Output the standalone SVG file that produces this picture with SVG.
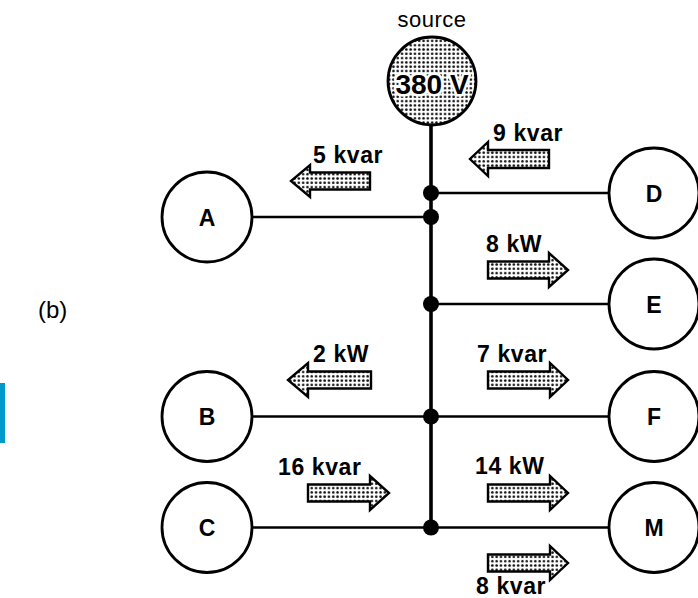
<svg xmlns="http://www.w3.org/2000/svg" width="698" height="598" viewBox="0 0 698 598">
<defs>
<pattern id="dots" width="4.3" height="4.3" patternUnits="userSpaceOnUse">
<rect width="4.3" height="4.3" fill="#fff"/>
<circle cx="2.15" cy="2.15" r="1.3" fill="#111"/>
</pattern>
<style>
.node{fill:#fff;stroke:#000;stroke-width:2.8}
.lbl{font-family:"Liberation Sans",Arial,sans-serif;font-weight:bold;font-size:23px;fill:#000;text-anchor:middle}
.val{font-family:"Liberation Sans",Arial,sans-serif;font-weight:bold;font-size:23px;fill:#000;letter-spacing:0.6px}
.wire{stroke:#000;stroke-width:2.6;fill:none}
.bus{stroke:#000;stroke-width:3.6;fill:none}
.dot{fill:#000}
.arr{fill:url(#dots);stroke:#000;stroke-width:2.4;stroke-linejoin:miter}
</style>
</defs>
<rect width="698" height="598" fill="#fff"/>
<rect x="0" y="383" width="5" height="60" fill="#0099cc"/>
<text x="38" y="318" font-family="Liberation Sans,Arial,sans-serif" font-size="24" fill="#000">(b)</text>

<g id="connectors">
<line class="bus" x1="431" y1="124" x2="431" y2="527.5"/>
<line class="wire" x1="252" y1="217" x2="431" y2="217"/>
<line class="wire" x1="431" y1="193" x2="609" y2="193"/>
<line class="wire" x1="431" y1="304" x2="609" y2="304"/>
<line class="wire" x1="252" y1="416.5" x2="609" y2="416.5"/>
<line class="wire" x1="252" y1="527.5" x2="609" y2="527.5"/>
<circle class="dot" cx="431" cy="193" r="8"/>
<circle class="dot" cx="431" cy="217" r="8"/>
<circle class="dot" cx="431" cy="304" r="8"/>
<circle class="dot" cx="431" cy="416.5" r="8"/>
<circle class="dot" cx="431" cy="527.5" r="8"/>
</g>

<g id="flows">
<path class="arr" d="M370,172.5 H310 V165 L291,181 L310,197 V189.5 H370 Z"/>
<text class="val" x="313" y="163">5 kvar</text>
<path class="arr" d="M549,150 H488 V142 L470,159 L488,176 V168 H549 Z"/>
<text class="val" x="493" y="141">9 kvar</text>
<path class="arr" d="M488,261.5 H549 V253 L568,270 L549,287 V278.5 H488 Z"/>
<text class="val" x="486" y="252">8 kW</text>
<path class="arr" d="M371,371.5 H308 V363 L288,380 L308,397 V388.5 H371 Z"/>
<text class="val" x="313" y="362">2 kW</text>
<path class="arr" d="M488,371.5 H550 V363 L568,380 L550,397 V388.5 H488 Z"/>
<text class="val" x="477" y="362">7 kvar</text>
<path class="arr" d="M308,484.5 H370 V476 L389,493 L370,510 V501.5 H308 Z"/>
<text class="val" x="278" y="475">16 kvar</text>
<path class="arr" d="M488,484.5 H550 V476 L568,493 L550,510 V501.5 H488 Z"/>
<text class="val" x="475" y="474">14 kW</text>
<path class="arr" d="M488,554.5 H550 V546 L568,563 L550,580 V571.5 H488 Z"/>
<text class="val" x="476" y="594">8 kvar</text>
</g>

<g id="source">
<text x="432" y="27" font-family="Liberation Sans,Arial,sans-serif" font-size="22" fill="#000" text-anchor="middle" letter-spacing="0.5">source</text>
<circle cx="432" cy="81" r="44" fill="url(#dots)" stroke="#000" stroke-width="2.8"/>
<text x="432" y="94" font-family="Liberation Sans,Arial,sans-serif" font-weight="bold" font-size="28" fill="#000" text-anchor="middle" stroke="#fff" stroke-width="5" paint-order="stroke" stroke-linejoin="round">380 V</text>
</g>

<g id="node-A"><circle class="node" cx="207" cy="217" r="45"/><text class="lbl" x="207" y="225.5">A</text></g>
<g id="node-B"><circle class="node" cx="207" cy="416.5" r="45"/><text class="lbl" x="207" y="425">B</text></g>
<g id="node-C"><circle class="node" cx="207" cy="527.5" r="45"/><text class="lbl" x="207" y="536">C</text></g>
<g id="node-D"><circle class="node" cx="654" cy="193" r="45"/><text class="lbl" x="654" y="201.5">D</text></g>
<g id="node-E"><circle class="node" cx="654" cy="304" r="45"/><text class="lbl" x="654" y="312.5">E</text></g>
<g id="node-F"><circle class="node" cx="654" cy="416.5" r="45"/><text class="lbl" x="654" y="425">F</text></g>
<g id="node-M"><circle class="node" cx="654" cy="527.5" r="45"/><text class="lbl" x="654" y="536">M</text></g>
</svg>
